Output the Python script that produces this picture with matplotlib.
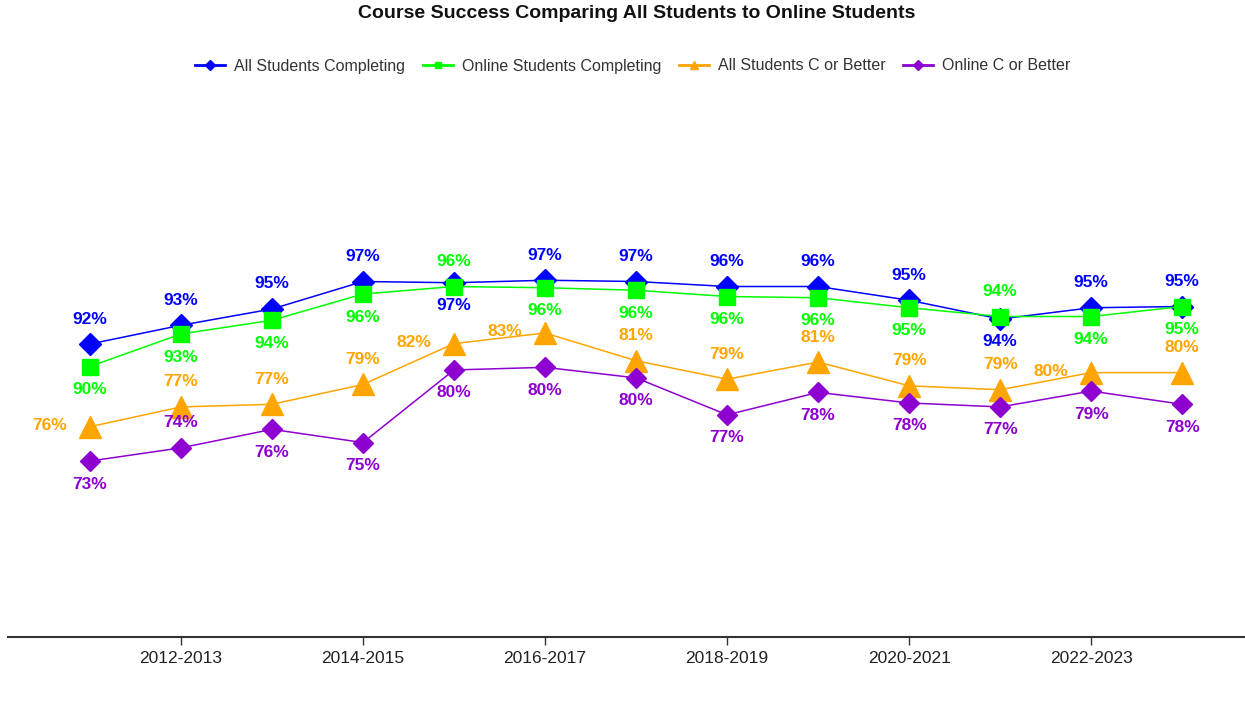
import numpy as np
import matplotlib.pyplot as plt
from matplotlib.lines import Line2D

plt.rcParams['font.family'] = ['Liberation Sans', 'DejaVu Sans']

years = ['2011-2012', '2012-2013', '2013-2014', '2014-2015', '2015-2016', '2016-2017',
         '2017-2018', '2018-2019', '2019-2020', '2020-2021', '2021-2022', '2022-2023',
         '2023-2024']

# completion rates (left hidden axis)
all_completing = [92.0, 93.5, 94.8, 97.0, 96.9, 97.1, 97.0, 96.6, 96.6, 95.5, 94.0, 94.9, 95.0]
online_completing = [90.2, 92.8, 93.9, 96.0, 96.6, 96.5, 96.3, 95.8, 95.7, 94.9, 94.2, 94.2, 95.0]
# C or better rates (right hidden axis)
all_c_better = [75.7, 77.2, 77.4, 78.9, 82.0, 82.8, 80.7, 79.3, 80.6, 78.8, 78.5, 79.8, 79.8]
online_c_better = [73.1, 74.1, 75.5, 74.5, 80.0, 80.2, 79.4, 76.6, 78.3, 77.5, 77.2, 78.4, 77.4]

# printed labels
lab_all_comp = [92, 93, 95, 97, 97, 97, 97, 96, 96, 95, 94, 95, 95]
lab_onl_comp = [90, 93, 94, 96, 96, 96, 96, 96, 96, 95, 94, 94, 95]
lab_all_c = [76, 77, 77, 79, 82, 83, 81, 79, 81, 79, 79, 80, 80]
lab_onl_c = [73, 74, 76, 75, 80, 80, 80, 77, 78, 78, 77, 79, 78]

# label placement: a=above, b=below, l=left
pos_all_comp = 'aaaabaaaaabaa'
pos_onl_comp = 'bbbbabbbbbabb'
pos_all_c = 'laaallaaaaala'
pos_onl_c = 'babbbbbbbbbbb'

BLUE = '#0000FF'
GREEN = '#00FF00'
ORANGE = '#FFA500'
PURPLE = '#8E00D0'

fig = plt.figure(figsize=(12.45, 7.05), dpi=100)
W, H = 1245, 705
ax1 = fig.add_axes([8 / W, 1 - 637 / H, 1 - 8 / W, (637 - 95) / H])
ax2 = ax1.twinx()

x = np.arange(len(years))

ax1.plot(x, all_completing, color=BLUE, lw=1.1, marker='D', ms=11, zorder=3)
ax1.plot(x, online_completing, color=GREEN, lw=1.1, marker='s', ms=12, zorder=4)
ax2.plot(x, all_c_better, color=ORANGE, lw=1.1, marker='^', ms=16, zorder=3)
ax2.plot(x, online_c_better, color=PURPLE, lw=1.1, marker='D', ms=10, zorder=4)

ax1.set_xlim(-0.9, 12.69)
ax1.set_ylim(68.56, 111.92)
ax2.set_ylim(59.77, 100.83)


def add_labels(ax, vals, labs, pos, color):
    for i, (v, l, p) in enumerate(zip(vals, labs, pos)):
        if p == 'a':
            off = (0, 25)
        elif p == 'b':
            off = (0, -23)
        else:
            off = (-40, 1)
        ax.annotate('%d%%' % l, (x[i], v), xytext=off, textcoords='offset pixels',
                    ha='center', va='center', fontsize=12.5, fontweight='bold',
                    color=color, zorder=6)


add_labels(ax1, all_completing, lab_all_comp, pos_all_comp, BLUE)
add_labels(ax1, online_completing, lab_onl_comp, pos_onl_comp, GREEN)
add_labels(ax2, all_c_better, lab_all_c, pos_all_c, ORANGE)
add_labels(ax2, online_c_better, lab_onl_c, pos_onl_c, PURPLE)

for ax in (ax1, ax2):
    for s in ('top', 'left', 'right'):
        ax.spines[s].set_visible(False)
    ax.set_yticks([])
ax2.spines['bottom'].set_visible(False)
ax1.spines['bottom'].set_color('#333333')
ax1.spines['bottom'].set_linewidth(1.5)

ax1.set_xticks(x[1::2])
ax1.set_xticklabels(years[1::2], fontsize=12.5, color='#222222')
ax1.tick_params(axis='x', length=6, width=1, color='#333333', pad=4)

fig.text(637 / W, 1 - 13 / H, 'Course Success Comparing All Students to Online Students',
         ha='center', va='center', fontsize=14, fontweight='bold', color='#111111')

handles = [
    Line2D([], [], color=BLUE, lw=2, marker='D', ms=5),
    Line2D([], [], color=GREEN, lw=2, marker='s', ms=5),
    Line2D([], [], color=ORANGE, lw=2, marker='^', ms=6),
    Line2D([], [], color=PURPLE, lw=2, marker='D', ms=5),
]
labels = ['All Students Completing', 'Online Students Completing',
          'All Students C or Better', 'Online C or Better']
fig.legend(handles, labels, loc='center', bbox_to_anchor=(633 / W, 1 - 66 / H), ncol=4,
           frameon=False, fontsize=11.5, handlelength=1.85, handletextpad=0.6,
           columnspacing=1.1, labelcolor='#333333')

fig.savefig('out.png', dpi=100)
